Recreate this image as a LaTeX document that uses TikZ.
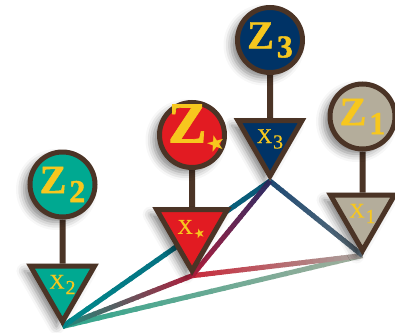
\documentclass[tikz,border=0pt]{standalone}
\usepackage{fontspec}
\setmainfont{Liberation Serif}
\newfontfamily\zfont[BoldFeatures={FakeBold=1.2}]{Liberation Serif}
\newfontfamily\xfont[FakeBold=0.6]{Liberation Serif}
\newfontfamily\starfont{DejaVu Sans}
\usetikzlibrary{positioning, calc, shapes.geometric, shadows.blur, backgrounds}

\definecolor{brdr}{HTML}{4B3426}
\definecolor{gold}{HTML}{F7C71E}
\definecolor{znavy}{HTML}{003366}
\definecolor{zred}{HTML}{E21B22}
\definecolor{zstone}{HTML}{B4AD9B}
\definecolor{zteal}{HTML}{00A991}
% line end colours
\definecolor{lgreen}{HTML}{A3AE9C}
\definecolor{lteal}{HTML}{2FA58C}
\definecolor{lred}{HTML}{C8283A}
\definecolor{lgrey}{HTML}{A8A6A0}
\definecolor{ldteal}{HTML}{1D8A7C}
\definecolor{lblue}{HTML}{1E4A74}
\definecolor{lslate}{HTML}{5E6E78}
\definecolor{lpetrol}{HTML}{0A5677}
\definecolor{lcyan}{HTML}{008A8C}
\definecolor{lviolet}{HTML}{2A2D66}
\definecolor{lcrim}{HTML}{B01E3C}

% labels
\newcommand{\zname}[1]{\zfont\fontsize{40}{40}\selectfont\bfseries Z\kern3pt\raisebox{-9pt}{\fontsize{32}{32}\selectfont #1}}
\newcommand{\xname}[1]{\xfont\fontsize{21}{21}\selectfont X\kern1pt\raisebox{-5.5pt}{\fontsize{20}{20}\selectfont #1}}
\newcommand{\zstar}{\raisebox{0pt}[15pt][0pt]{\makebox[48pt][l]{\zfont\fontsize{58}{58}\selectfont\bfseries Z\kern-2pt\raisebox{-11pt}{\rotatebox{15}{\starfont\fontsize{22}{22}\selectfont ★}}}}}
\newcommand{\xstar}{\xfont\fontsize{21}{21}\selectfont X\raisebox{-6pt}{\rotatebox{15}{\starfont\fontsize{13}{13}\selectfont ★}}}

% colour-fading connector between two anchors
\newcommand{\fadeline}[4]{%
  \foreach \k in {0,...,23}{
    \pgfmathsetmacro{\ta}{\k/24}
    \pgfmathsetmacro{\tb}{min(1,(\k+1.2)/24)}
    \pgfmathtruncatemacro{\mix}{100-100*(\k+0.5)/24}
    \draw[link, draw={#3!\mix!#4}] ($(#1)!\ta!(#2)$) -- ($(#1)!\tb!(#2)$);
  }}

\begin{document}
\begin{tikzpicture}[x=1pt, y=-1pt,
    shade/.style={blur shadow={shadow xshift=-6pt, shadow yshift=-5pt, shadow blur radius=8pt, shadow opacity=50}},
    zcirc/.style={circle, draw=brdr, line width=5pt, minimum size=65pt, inner sep=0pt, fill=#1, text=gold, shade},
    xtri/.style={regular polygon, regular polygon sides=3, shape border rotate=180, draw=brdr, line width=5pt, minimum size=70.8pt, inner sep=0pt, fill=#1, text=gold, shade},
    stem/.style={draw=brdr, line width=6pt},
    link/.style={line width=5pt, line cap=butt}
  ]
  \useasboundingbox (0,0) rectangle (395,332);

  \node[zcirc=znavy] (z3) at (270,40) {\zname{3}};
  \node[zcirc=zred] (zs) at (192,135) {\zstar};
  \node[zcirc=zstone] (z1) at (362.5,116.5) {\zname{1}};
  \node[zcirc=zteal] (z2) at (62.5,184.5) {\zname{2}};

  \node[xtri=znavy, below=43pt of z3] (x3) {\xname{3}};
  \node[xtri=zred, below=37pt of zs] (xs) {\xstar};
  \node[xtri=zstone, below=41pt of z1] (x1) {\xname{1}};
  \node[xtri=zteal, below=44pt of z2] (x2) {\xname{2}};

  \begin{scope}[on background layer]
    \draw[stem] (z3) -- (x3);
    \draw[stem] (zs) -- (xs);
    \draw[stem] (z1) -- (x1);
    \draw[stem] (z2) -- (x2);

    \fadeline{x1.corner 1}{x2.corner 1}{lgreen}{lteal}
    \fadeline{xs.corner 1}{x1.corner 1}{lred}{lgrey}
    \fadeline{xs.corner 1}{x2.corner 1}{lcrim}{ldteal}
    \fadeline{x3.corner 1}{x1.corner 1}{lblue}{lslate}
    \fadeline{x3.corner 1}{x2.corner 1}{lpetrol}{lcyan}
    \fadeline{x3.corner 1}{xs.corner 1}{lviolet}{lcrim}
  \end{scope}
\end{tikzpicture}
\end{document}
